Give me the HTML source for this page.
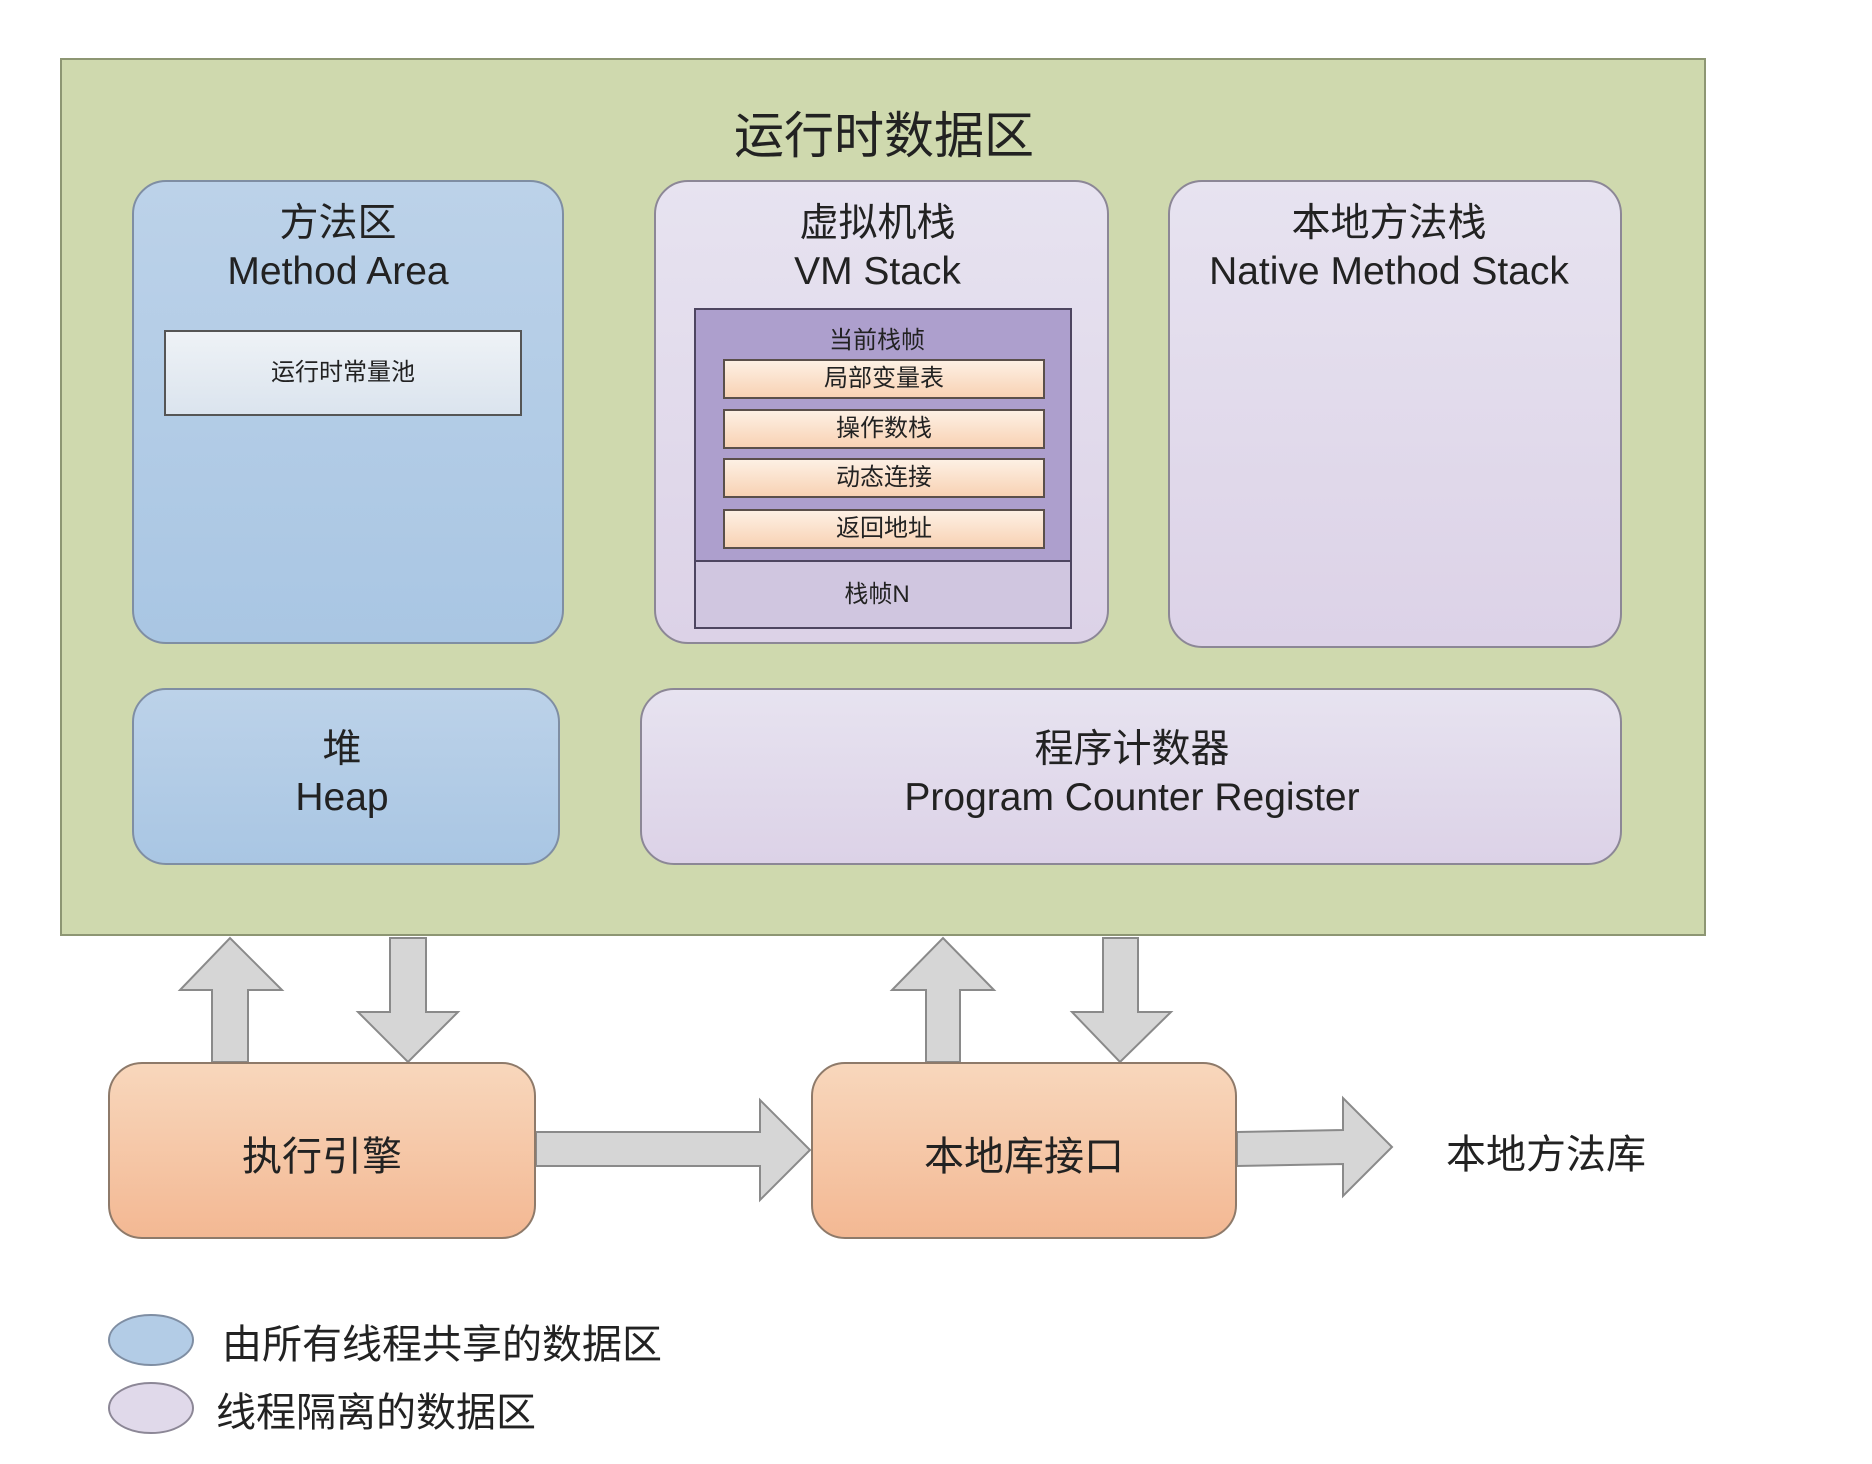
<!DOCTYPE html>
<html><head><meta charset="utf-8"><style>
body{margin:0;width:1872px;height:1464px;background:#fff;position:relative;overflow:hidden;font-family:"Liberation Sans","Noto Sans CJK SC",sans-serif;color:#222}
.a{position:absolute;box-sizing:border-box}
.t{position:absolute;text-align:center;white-space:nowrap}
.blue{background:linear-gradient(#bcd2e9,#a9c6e3);border:2px solid #7f8ea3;border-radius:34px}
.purp{background:linear-gradient(#e7e3f0,#dcd2e7);border:2px solid #8c8796;border-radius:34px}
.or{background:linear-gradient(#f8d7bc,#f3b893);border:2px solid #8e7a6a;border-radius:34px}
.row{position:absolute;left:27px;width:322px;height:40px;box-sizing:border-box;border:2px solid #5a4f4a;background:linear-gradient(#fdf0e4,#f8d2b4);font-size:24px;text-align:center;line-height:36px}
</style></head><body>
<div class="a" style="left:60px;top:58px;width:1646px;height:878px;background:#cfd9ae;border:2px solid #8d9673"></div>
<div class="t" style="left:584px;width:600px;top:96px;font-size:50px">运行时数据区</div>

<div class="a blue" style="left:132px;top:180px;width:432px;height:464px"></div>
<div class="t" style="left:122px;width:432px;top:200px;font-size:39px;line-height:48px">方法区<br>Method Area</div>
<div class="a" style="left:164px;top:330px;width:358px;height:86px;border:2px solid #555;background:linear-gradient(#eef2f6,#dbe4ee);font-size:24px;text-align:center;line-height:82px">运行时常量池</div>

<div class="a purp" style="left:654px;top:180px;width:455px;height:464px"></div>
<div class="t" style="left:650px;width:455px;top:200px;font-size:39px;line-height:48px">虚拟机栈<br>VM Stack</div>
<div class="a" style="left:694px;top:308px;width:378px;height:321px;border:2px solid #4d4560;background:#d0c6e0">
 <div class="a" style="left:0;top:0;width:374px;height:252px;background:#ad9fcd;border-bottom:2px solid #4d4560"></div>
 <div class="t" style="left:-6px;width:374px;top:10px;font-size:24px">当前栈帧</div>
 <div class="row" style="top:49px">局部变量表</div>
 <div class="row" style="top:99px">操作数栈</div>
 <div class="row" style="top:148px">动态连接</div>
 <div class="row" style="top:199px">返回地址</div>
 <div class="t" style="left:-6px;width:374px;top:264px;font-size:24px">栈帧N</div>
</div>

<div class="a purp" style="left:1168px;top:180px;width:454px;height:468px"></div>
<div class="t" style="left:1162px;width:454px;top:200px;font-size:39px;line-height:48px">本地方法栈<br>Native Method Stack</div>

<div class="a blue" style="left:132px;top:688px;width:428px;height:177px"></div>
<div class="t" style="left:128px;width:428px;top:726px;font-size:39px;line-height:48px">堆<br>Heap</div>
<div class="a purp" style="left:640px;top:688px;width:982px;height:177px"></div>
<div class="t" style="left:640px;width:984px;top:726px;font-size:39px;line-height:48px">程序计数器<br>Program Counter Register</div>

<svg class="a" style="left:0;top:0" width="1872" height="1464">
<g fill="#d6d6d6" stroke="#8a8a8a" stroke-width="2">
<polygon points="212,1062 212,990 180,990 230,938 282,990 248,990 248,1062"/>
<polygon points="390,938 426,938 426,1012 458,1012 408,1062 358,1012 390,1012"/>
<polygon points="926,1062 926,990 892,990 943,938 994,990 960,990 960,1062"/>
<polygon points="1103,938 1138,938 1138,1012 1171,1012 1120,1062 1072,1012 1103,1012"/>
<polygon points="536,1132 760,1132 760,1100 810,1150 760,1200 760,1166 536,1166"/>
<polygon points="1237,1132 1343,1130 1343,1098 1392,1147 1343,1196 1343,1164 1237,1166"/>
</g>
<ellipse cx="151" cy="1340" rx="42" ry="25" fill="#b3cce6" stroke="#7f8ea3" stroke-width="2"/>
<ellipse cx="151" cy="1408" rx="42" ry="25" fill="#e0d9ea" stroke="#8c8796" stroke-width="2"/>
</svg>

<div class="a or" style="left:108px;top:1062px;width:428px;height:177px"></div>
<div class="t" style="left:108px;width:428px;top:1124px;font-size:40px">执行引擎</div>
<div class="a or" style="left:811px;top:1062px;width:426px;height:177px"></div>
<div class="t" style="left:811px;width:426px;top:1124px;font-size:40px">本地库接口</div>
<div class="t" style="left:1446px;top:1122px;font-size:40px;text-align:left">本地方法库</div>
<div class="t" style="left:222px;top:1312px;font-size:40px;text-align:left">由所有线程共享的数据区</div>
<div class="t" style="left:216px;top:1380px;font-size:40px;text-align:left">线程隔离的数据区</div>
</body></html>
